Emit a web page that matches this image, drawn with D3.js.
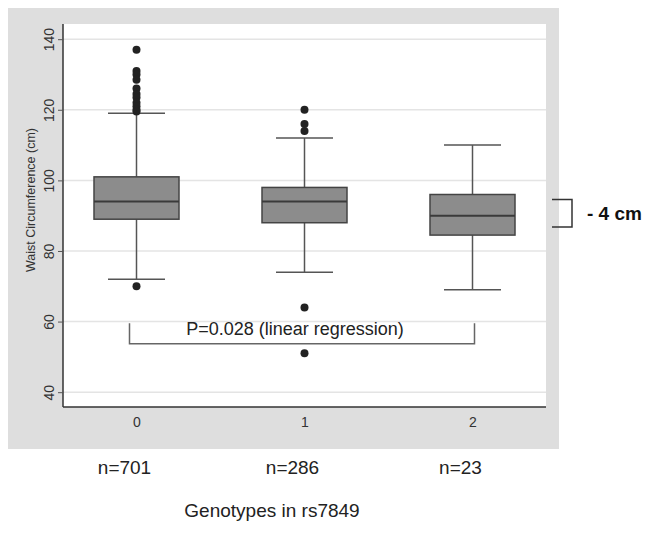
<!DOCTYPE html>
<html>
<head>
<meta charset="utf-8">
<script src="https://cdn.jsdelivr.net/npm/d3@7"></script>
<style>
  body { margin: 0; background: #fff; }
  text { font-family: "Liberation Sans", Arial, sans-serif; }
</style>
</head>
<body>
<div id="chart"></div>
<script>
// svg size
var width = 647, height = 535;

// data
var genotypes = ["0", "1", "2"];
var counts = ["n=701", "n=286", "n=23"];
var q1 = [89, 88, 84.5];
var median = [94, 94, 90];
var q3 = [101, 98, 96];
var whiskLo = [72, 74, 69];
var whiskHi = [119, 112, 110];
var outliers = [
    [137, 131, 130, 128.5, 126, 124.5, 123.5, 122, 121, 120, 119.5, 70],
    [120, 116, 114, 64, 51],
    []
];
var yTicks = [40, 60, 80, 100, 120, 140];
var pText = "P=0.028 (linear regression)";
var pBracket = [53.7, 59.5];        // bar level, end level
var diffText = "- 4 cm";
var diffBracket = [94.6, 86.8];

// plot area
var bg = {x: 8, y: 8, w: 551, h: 441};
var plot = {left: 63, top: 24, right: 546, bottom: 407};

var svg = d3.select("#chart")
            .append("svg")
            .attr("width", width)
            .attr("height", height);

var x = d3.scalePoint()
            .domain(genotypes)
            .range([plot.left, plot.right])
            .padding(0.4375);

var y = d3.scaleLinear()
            .domain([35.8, 144.3])
            .range([plot.bottom, plot.top]);

// grey background + white plot region
svg.append("rect")
    .attr("x", bg.x).attr("y", bg.y)
    .attr("width", bg.w).attr("height", bg.h)
    .attr("fill", "#dedede");

svg.append("rect")
    .attr("x", plot.left).attr("y", plot.top)
    .attr("width", plot.right - plot.left).attr("height", plot.bottom - plot.top)
    .attr("fill", "#fff");

// gridlines
svg.append("g")
    .selectAll("line")
    .data(yTicks)
    .enter()
        .append("line")
        .attr("x1", plot.left)
        .attr("x2", plot.right)
        .attr("y1", function(d){ return y(d); })
        .attr("y2", function(d){ return y(d); })
        .style("stroke", "#e4e4e4")
        .style("stroke-width", 1.5);

// y axis
var yAxis = svg.append("g")
    .attr("transform", "translate(" + plot.left + ",0)")
    .call(d3.axisLeft(y).tickValues(yTicks).tickSize(5).tickSizeOuter(0).tickPadding(4));

yAxis.select(".domain").attr("stroke", "#333").attr("stroke-width", 1.5)
    .attr("d", "M0," + plot.top + "V" + plot.bottom);
yAxis.selectAll(".tick line").attr("stroke", "#555");
yAxis.selectAll(".tick text")
    .attr("font-size", 14)
    .attr("fill", "#333")
    .attr("text-anchor", "middle")
    .attr("transform", "translate(-9,0) rotate(-90)")
    .attr("x", 0)
    .attr("dy", "0");

// x axis
var xAxis = svg.append("g")
    .attr("transform", "translate(0," + plot.bottom + ")")
    .call(d3.axisBottom(x).tickSize(0).tickPadding(10));

xAxis.select(".domain").attr("stroke", "#333").attr("stroke-width", 1.5)
    .attr("d", "M" + plot.left + ",0H" + plot.right);
xAxis.selectAll(".tick text")
    .attr("font-size", 14)
    .attr("fill", "#333");

// axis title
svg.append("text")
    .attr("transform", "translate(35," + 200 + ") rotate(-90)")
    .attr("text-anchor", "middle")
    .attr("font-size", 12.5)
    .attr("fill", "#333")
    .text("Waist Circumference (cm)");

// boxes
var boxW = 85, capW = 57;

var boxes = svg.append("g")
    .selectAll("g")
    .data(genotypes)
    .enter()
        .append("g");

// whiskers
boxes.append("line")
    .attr("x1", function(d){ return x(d); })
    .attr("x2", function(d){ return x(d); })
    .attr("y1", function(d, i){ return y(whiskHi[i]); })
    .attr("y2", function(d, i){ return y(q3[i]); })
    .style("stroke", "#555").style("stroke-width", 1.5);

boxes.append("line")
    .attr("x1", function(d){ return x(d); })
    .attr("x2", function(d){ return x(d); })
    .attr("y1", function(d, i){ return y(q1[i]); })
    .attr("y2", function(d, i){ return y(whiskLo[i]); })
    .style("stroke", "#555").style("stroke-width", 1.5);

[whiskHi, whiskLo].forEach(function(arr){
    boxes.append("line")
        .attr("x1", function(d){ return x(d) - capW/2; })
        .attr("x2", function(d){ return x(d) + capW/2; })
        .attr("y1", function(d, i){ return y(arr[i]); })
        .attr("y2", function(d, i){ return y(arr[i]); })
        .style("stroke", "#555").style("stroke-width", 1.5);
});

boxes.append("rect")
    .attr("x", function(d){ return x(d) - boxW/2; })
    .attr("width", boxW)
    .attr("y", function(d, i){ return y(q3[i]); })
    .attr("height", function(d, i){ return y(q1[i]) - y(q3[i]); })
    .attr("fill", "#8c8c8c")
    .style("stroke", "#444")
    .style("stroke-width", 1.5);

boxes.append("line")
    .attr("x1", function(d){ return x(d) - boxW/2; })
    .attr("x2", function(d){ return x(d) + boxW/2; })
    .attr("y1", function(d, i){ return y(median[i]); })
    .attr("y2", function(d, i){ return y(median[i]); })
    .style("stroke", "#3a3a3a").style("stroke-width", 2);

// outliers
boxes.selectAll("circle")
    .data(function(d, i){ return outliers[i].map(function(v){ return {g: d, v: v}; }); })
    .enter()
        .append("circle")
        .attr("cx", function(d){ return x(d.g); })
        .attr("cy", function(d){ return y(d.v); })
        .attr("r", 4)
        .attr("fill", "#222");

// p-value bracket
var bx0 = x("0") - 7, bx1 = x("2") + 2;
svg.append("path")
    .attr("d", "M" + bx0 + "," + y(pBracket[1]) + "V" + y(pBracket[0]) +
               "H" + bx1 + "V" + y(pBracket[1]))
    .attr("fill", "none")
    .style("stroke", "#666")
    .style("stroke-width", 1.5);

svg.append("text")
    .attr("x", (bx0 + bx1) / 2 - 7)
    .attr("y", y(pBracket[1]) + 12)
    .attr("text-anchor", "middle")
    .attr("font-size", 18)
    .attr("fill", "#222")
    .text(pText);

// difference bracket on the right
var dx0 = 552, dx1 = 572;
svg.append("path")
    .attr("d", "M" + dx0 + "," + y(diffBracket[0]) + "H" + dx1 +
               "V" + y(diffBracket[1]) + "H" + dx0)
    .attr("fill", "none")
    .style("stroke", "#333")
    .style("stroke-width", 1.5);

svg.append("text")
    .attr("x", 587)
    .attr("y", (y(diffBracket[0]) + y(diffBracket[1])) / 2 + 7)
    .attr("font-size", 19)
    .attr("font-weight", "bold")
    .attr("fill", "#111")
    .text(diffText);

// n labels
svg.append("g")
    .selectAll("text")
    .data(counts)
    .enter()
        .append("text")
        .attr("x", function(d, i){ return x(genotypes[i]) - 12; })
        .attr("y", 474)
        .attr("text-anchor", "middle")
        .attr("font-size", 19)
        .attr("fill", "#222")
        .text(function(d){ return d; });

svg.append("text")
    .attr("x", 272)
    .attr("y", 517)
    .attr("text-anchor", "middle")
    .attr("font-size", 19)
    .attr("fill", "#222")
    .text("Genotypes in rs7849");
</script>
</body>
</html>
